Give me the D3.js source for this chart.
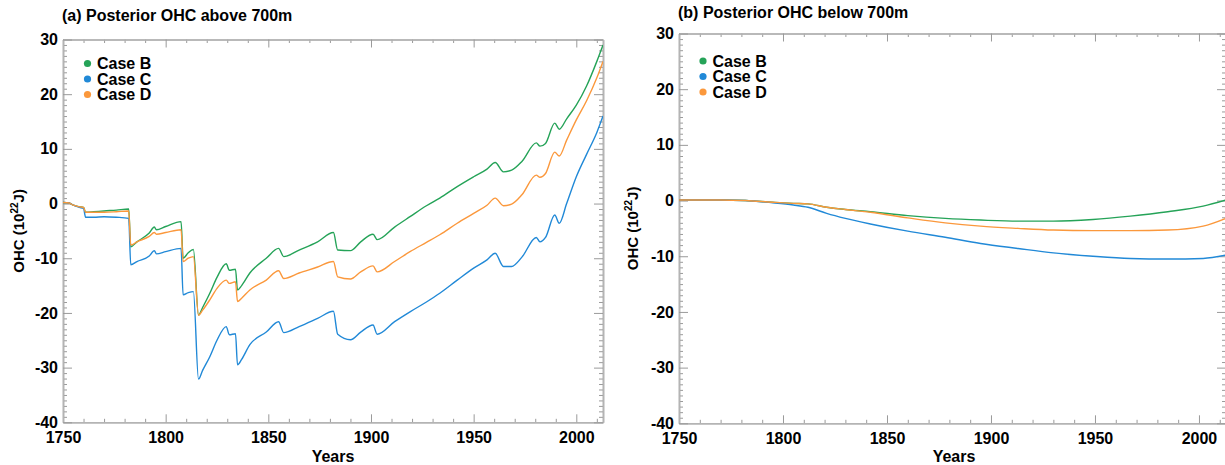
<!DOCTYPE html>
<html>
<head>
<meta charset="utf-8">
<script src="https://cdn.jsdelivr.net/npm/d3@7"></script>
<style>
  html, body { margin: 0; padding: 0; background: #ffffff; }
  svg { display: block; font-family: "Liberation Sans", Arial, Helvetica, sans-serif; }
</style>
</head>
<body>
<svg id="chart" width="1225" height="465"></svg>
<script>
// ---------------- Data ----------------
const seriesNames = ["Case B", "Case C", "Case D"];
const seriesColors = ["#25a358", "#2189d7", "#fb983c"];

// Panel (a): posterior OHC above 700m (10^22 J)
const aboveYears = [1750, 1753, 1755, 1758, 1760, 1761, 1765, 1770, 1776, 1782, 1783, 1786, 1792, 1794.5, 1795.5, 1800,
  1807.5, 1808.5, 1811, 1813.5, 1816, 1818, 1821.5, 1825, 1829.5, 1831, 1834, 1835, 1837, 1841, 1849, 1855, 1857.5,
  1865, 1874, 1881.7, 1883.8, 1890, 1895, 1901, 1903, 1911.5, 1919, 1927, 1933.5, 1942, 1950, 1956.5, 1960.5, 1964.5,
  1968.5, 1973.5, 1980.5, 1982.3, 1985, 1989.5, 1991.7, 1995.3, 2000, 2005, 2010, 2013];
const aboveCaseB = [0.2, 0.1, -0.3, -0.6, -0.7, -1.6, -1.5, -1.35, -1.2, -1.0, -7.9, -7.0, -5.4, -4.3, -4.8, -4.2,
  -3.3, -10.0, -9.0, -8.4, -20.4, -19.0, -16.4, -13.5, -11.0, -12.2, -12.0, -15.8, -15.0, -12.7, -10.0, -8.2, -9.7,
  -8.5, -7.0, -5.3, -8.5, -8.6, -7.0, -5.6, -6.6, -4.3, -2.4, -0.4, 1.0, 3.1, 4.9, 6.3, 7.5, 5.8,
  6.1, 7.7, 11.1, 10.5, 11.0, 14.7, 13.6, 15.5, 18.0, 21.5, 26.0, 29.0];
const aboveCaseC = [0.2, 0.1, -0.3, -0.7, -0.9, -2.5, -2.5, -2.4, -2.5, -2.7, -11.2, -10.6, -9.6, -8.6, -9.2, -8.8,
  -8.2, -16.7, -16.3, -16.1, -32.1, -30.5, -28.0, -25.0, -22.5, -24.0, -23.8, -29.5, -28.5, -25.8, -23.5, -21.6, -23.6,
  -22.5, -21.0, -19.7, -23.9, -24.9, -23.5, -22.2, -23.9, -21.6, -19.8, -18.0, -16.4, -14.0, -11.8, -10.3, -9.1, -11.5,
  -11.5, -9.8, -6.2, -7.0, -6.2, -2.1, -3.6, 0.0, 4.9, 9.0, 13.0, 16.0];
const aboveCaseD = [0.2, 0.1, -0.3, -0.6, -0.7, -1.6, -1.6, -1.6, -1.5, -1.35, -7.6, -7.0, -6.0, -5.3, -5.6, -5.3,
  -4.8, -10.6, -10.0, -9.7, -20.4, -19.5, -17.6, -15.5, -14.0, -14.6, -14.3, -17.9, -17.3, -15.8, -14.0, -12.3, -13.7,
  -12.7, -11.6, -10.6, -13.4, -13.8, -12.5, -11.4, -12.5, -10.6, -8.8, -7.1, -5.7, -3.6, -1.8, -0.3, 1.0, -0.4,
  -0.1, 1.6, 5.2, 4.8, 5.5, 9.4, 8.7, 11.6, 15.3, 18.8, 23.0, 26.0];

// Panel (b): posterior OHC below 700m (10^22 J)
const belowYears = [1750, 1770, 1782, 1795, 1805, 1812, 1821, 1830, 1842, 1860, 1878, 1895, 1913, 1930, 1949, 1967, 1985, 2002, 2013];
const belowCaseB = [0.1, 0.1, 0.0, -0.3, -0.5, -0.6, -1.2, -1.6, -2.0, -2.7, -3.2, -3.5, -3.7, -3.7, -3.4, -2.8, -2.0, -1.0, 0.1];
const belowCaseC = [0.1, 0.1, 0.0, -0.4, -0.8, -1.2, -2.3, -3.2, -4.2, -5.5, -6.6, -7.7, -8.6, -9.4, -10.0, -10.4, -10.5, -10.4, -9.8];
const belowCaseD = [0.1, 0.1, 0.0, -0.3, -0.5, -0.6, -1.2, -1.6, -2.1, -3.1, -4.0, -4.6, -5.0, -5.3, -5.4, -5.4, -5.3, -4.6, -3.2];

// Axis ticks
const xMajorTicks = [1750, 1800, 1850, 1900, 1950, 2000];
const xDomain = [1750, 2013];
const yMajorTicks = [-40, -30, -20, -10, 0, 10, 20, 30];
const yDomain = [-40, 30];
const panelTitles = ["(a) Posterior OHC above 700m", "(b) Posterior OHC below 700m"];
const xTitle = "Years";

// ---------------- Drawing ----------------
const svg = d3.select("#chart");
const axisColor = "#b4b4b4";

const panels = [
  { title: panelTitles[0], years: aboveYears, values: [aboveCaseB, aboveCaseC, aboveCaseD],
    left: 63, right: 603, top: 39.5, bottom: 422.3, titleY: 20.5, legendX: 87.5, legendY: 63.5, ylabX: 24 },
  { title: panelTitles[1], years: belowYears, values: [belowCaseB, belowCaseC, belowCaseD],
    left: 679, right: 1226, top: 33.5, bottom: 423.3, titleY: 18, legendX: 703, legendY: 61, ylabX: 638 }
];

const xMinor = d3.range(1760, 2014, 10).filter(v => !xMajorTicks.includes(v));
const yMinor = d3.range(-40, 31, 1).filter(v => !yMajorTicks.includes(v));
const plainFormat = d => String(d);

panels.forEach((p, pi) => {
  const x = d3.scaleLinear().domain(xDomain).range([p.left, p.right]);
  const y = d3.scaleLinear().domain(yDomain).range([p.bottom, p.top]);
  const g = svg.append("g");

  const styleAxis = (sel, showLabels) => {
    sel.select(".domain").attr("stroke", axisColor).attr("stroke-width", 1.6);
    sel.selectAll(".tick line").attr("stroke", "#9a9a9a").attr("stroke-width", 1);
    sel.selectAll(".tick text").attr("fill", "#000").attr("font-weight", "bold")
      .attr("font-size", 16).style("display", showLabels ? null : "none");
  };

  // minor ticks first
  g.append("g").attr("transform", `translate(0,${p.bottom})`)
    .call(d3.axisBottom(x).tickValues(xMinor).tickSize(-3.5).tickSizeOuter(0).tickFormat(""))
    .call(s => styleAxis(s, false));
  g.append("g").attr("transform", `translate(0,${p.top})`)
    .call(d3.axisTop(x).tickValues(xMinor).tickSize(-3.5).tickSizeOuter(0).tickFormat(""))
    .call(s => styleAxis(s, false));
  g.append("g").attr("transform", `translate(${p.left},0)`)
    .call(d3.axisLeft(y).tickValues(yMinor).tickSize(-4).tickSizeOuter(0).tickFormat(""))
    .call(s => styleAxis(s, false));
  g.append("g").attr("transform", `translate(${p.right},0)`)
    .call(d3.axisRight(y).tickValues(yMinor).tickSize(-4).tickSizeOuter(0).tickFormat(""))
    .call(s => styleAxis(s, false));

  // major ticks
  g.append("g").attr("transform", `translate(0,${p.bottom})`)
    .call(d3.axisBottom(x).tickValues(xMajorTicks).tickSize(-8).tickSizeOuter(0).tickPadding(9).tickFormat(plainFormat))
    .call(s => styleAxis(s, true));
  g.append("g").attr("transform", `translate(0,${p.top})`)
    .call(d3.axisTop(x).tickValues(xMajorTicks).tickSize(-8).tickSizeOuter(0).tickFormat(""))
    .call(s => styleAxis(s, false));
  g.append("g").attr("transform", `translate(${p.left},0)`)
    .call(d3.axisLeft(y).tickValues(yMajorTicks).tickSize(-9).tickSizeOuter(0).tickPadding(5).tickFormat(plainFormat))
    .call(s => styleAxis(s, true));
  g.append("g").attr("transform", `translate(${p.right},0)`)
    .call(d3.axisRight(y).tickValues(yMajorTicks).tickSize(-9).tickSizeOuter(0).tickFormat(""))
    .call(s => styleAxis(s, false));

  // clip
  const clipId = "clip" + pi;
  svg.append("clipPath").attr("id", clipId).append("rect")
    .attr("x", p.left).attr("y", p.top).attr("width", p.right - p.left).attr("height", p.bottom - p.top);

  const line = d3.line().x(d => x(d[0])).y(d => y(d[1])).curve(d3.curveMonotoneX);
  p.values.forEach((vals, si) => {
    const pts = p.years.map((yr, i) => [yr, vals[i]]);
    g.append("path").attr("clip-path", `url(#${clipId})`)
      .attr("d", line(pts)).attr("fill", "none")
      .attr("stroke", seriesColors[si]).attr("stroke-width", 1.4).attr("stroke-linejoin", "round");
  });

  // legend
  seriesNames.forEach((name, si) => {
    const ly = p.legendY + si * 15.5;
    g.append("circle").attr("cx", p.legendX).attr("cy", ly).attr("r", 3.6).attr("fill", seriesColors[si]);
    g.append("text").attr("x", p.legendX + 9.5).attr("y", ly + 5.6)
      .attr("font-size", 16).attr("font-weight", "bold").attr("fill", "#000").text(name);
  });

  // title
  g.append("text").attr("x", p.left - 1).attr("y", p.titleY)
    .attr("font-size", 16).attr("font-weight", "bold").attr("fill", "#000").text(p.title);

  // x title
  g.append("text").attr("x", (p.left + Math.min(p.right, 1225)) / 2 + (pi === 1 ? 2 : 0)).attr("y", 462)
    .attr("text-anchor", "middle").attr("font-size", 16).attr("font-weight", "bold").attr("fill", "#000").text(xTitle);

  // y title
  const yl = g.append("text").attr("transform", `translate(${p.ylabX},${(p.top + p.bottom) / 2}) rotate(-90)`)
    .attr("text-anchor", "middle").attr("font-size", 15).attr("font-weight", "bold").attr("fill", "#000");
  yl.append("tspan").text("OHC (10");
  yl.append("tspan").attr("font-size", 10).attr("dy", -6).text("22");
  yl.append("tspan").attr("dy", 6).text("J)");
});
</script>
</body>
</html>
